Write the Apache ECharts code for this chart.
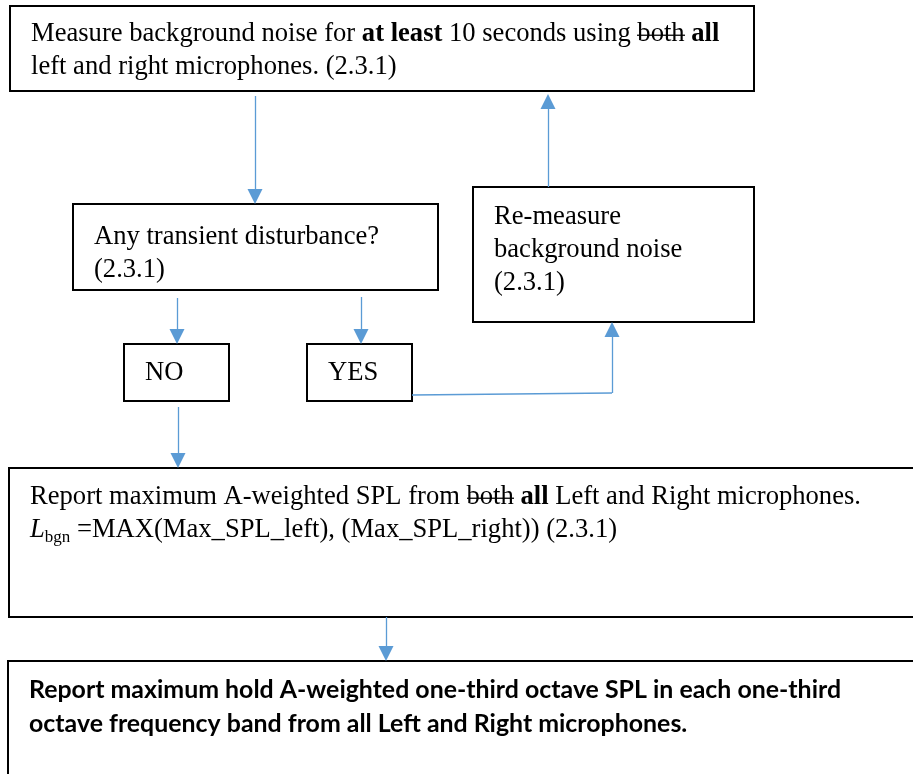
<!DOCTYPE html>
<html>
<head>
<meta charset="utf-8">
<script src="https://cdn.jsdelivr.net/npm/echarts@6/dist/echarts.min.js"></script>
<style>
  html, body { margin: 0; padding: 0; background: #fff; }
  #main { width: 913px; height: 774px; }
</style>
</head>
<body>
<div id="main"></div>
<script>
// flowchart nodes, extents in axis units [x0, y0, x1, y1]
var nodeBoxes = [
  [10, 6, 754, 91],
  [73, 204, 438, 290],
  [473, 187, 754, 322],
  [124, 344, 229, 401],
  [307, 344, 412, 401],
  [9, 468, 930, 617],
  [8, 661, 930, 800]
];
// middle of the first text line of each node
var nodeTextMid = [34, 237, 217, 373, 373, 497, 690];
var nodeTexts = [
  '{r|Measure background noise for }{b|at least}{r| 10 seconds using }{s|both}{r| }{b|all}\n{r|left and right microphones. (2.3.1)}',
  '{r|Any transient disturbance?}\n{r|(2.3.1)}',
  '{r|Re-measure}\n{r|background noise}\n{r|(2.3.1)}',
  '{r|NO}',
  '{r|YES}',
  '{r|Report maximum A-weighted SPL from }{s|both}{r| }{b|all}{r| Left and Right microphones.}\n{i|L}{sub|bgn}{r| =MAX(Max_SPL_left), (Max_SPL_right)) (2.3.1)}',
  '{k|Report maximum hold A-weighted one-third octave SPL in each one-third}\n{k|octave frequency band from all Left and Right microphones.}'
];
// arrows: start point -> arrow tip
var arrowPaths = [
  [[255, 96], [255, 204]],
  [[177, 298], [177, 344]],
  [[361, 297], [361, 344]],
  [[612, 393], [612, 322]],
  [[548, 187], [548, 94]],
  [[178, 407], [178, 468]],
  [[386, 617], [386, 661]]
];
// connector legs without arrow head
var plainSegments = [
  [[412, 395], [612, 393]]
];

var serif = 'Liberation Serif';
var fs = 26.6;
var lh = 33;
var headSize = 15;

// strike-through drawn as token background
var strike = document.createElement('canvas');
strike.width = 4;
strike.height = lh;
var sctx = strike.getContext('2d');
sctx.fillStyle = '#000';
sctx.fillRect(0, 17.3, 4, 1.6);

var rich = {
  r: { fontFamily: serif, fontSize: fs, lineHeight: lh, color: '#000' },
  b: { fontFamily: serif, fontSize: fs, lineHeight: lh, color: '#000', fontWeight: 'bold' },
  s: { fontFamily: serif, fontSize: fs, lineHeight: lh, color: '#000', backgroundColor: { image: strike } },
  i: { fontFamily: serif, fontSize: fs, lineHeight: lh, color: '#000', fontStyle: 'italic' },
  sub: { fontFamily: serif, fontSize: 17, color: '#000', verticalAlign: 'bottom' },
  k: { fontFamily: 'Lato', fontSize: 24.9, lineHeight: 34, color: '#000', fontWeight: 'bold' }
};

function renderNode(params, api) {
  var i = params.dataIndex;
  var p0 = api.coord([api.value(0), api.value(1)]);
  var p1 = api.coord([api.value(2), api.value(3)]);
  var mid = api.coord([0, nodeTextMid[i]])[1];
  var lineH = i === 6 ? 34 : lh;
  return {
    type: 'group',
    children: [
      {
        type: 'rect',
        shape: { x: p0[0], y: p0[1], width: p1[0] - p0[0], height: p1[1] - p0[1] },
        style: { fill: '#fff', stroke: '#000', lineWidth: 2 }
      },
      {
        type: 'text',
        x: p0[0] + 21,
        y: mid - lineH / 2,
        style: { text: nodeTexts[i], rich: rich, align: 'left', verticalAlign: 'top' }
      }
    ]
  };
}

// pull the end back so the triangle tip lands on the target
function toTip(p) {
  var a = p[0], b = p[1];
  var dx = b[0] - a[0], dy = b[1] - a[1];
  var len = Math.sqrt(dx * dx + dy * dy);
  var k = (headSize / 2) / len;
  return { coords: [a, [b[0] - dx * k, b[1] - dy * k]] };
}

var chart = echarts.init(document.getElementById('main'));
chart.setOption({
  animation: false,
  backgroundColor: '#fff',
  grid: { left: 0, right: 0, top: 0, bottom: 0 },
  xAxis: { type: 'value', min: 0, max: 913, show: false },
  yAxis: { type: 'value', min: 0, max: 774, inverse: true, show: false },
  series: [
    {
      type: 'custom',
      clip: false,
      renderItem: renderNode,
      data: nodeBoxes,
      z: 1
    },
    {
      type: 'lines',
      coordinateSystem: 'cartesian2d',
      symbol: ['none', 'none'],
      lineStyle: { color: '#5B9BD5', width: 1.3, opacity: 1 },
      data: plainSegments.map(function (s) { return { coords: s }; }),
      z: 3
    },
    {
      type: 'lines',
      coordinateSystem: 'cartesian2d',
      symbol: ['none', 'triangle'],
      symbolSize: headSize,
      lineStyle: { color: '#5B9BD5', width: 1.3, opacity: 1 },
      itemStyle: { color: '#5B9BD5' },
      data: arrowPaths.map(toTip),
      z: 3
    }
  ]
});
</script>
</body>
</html>
